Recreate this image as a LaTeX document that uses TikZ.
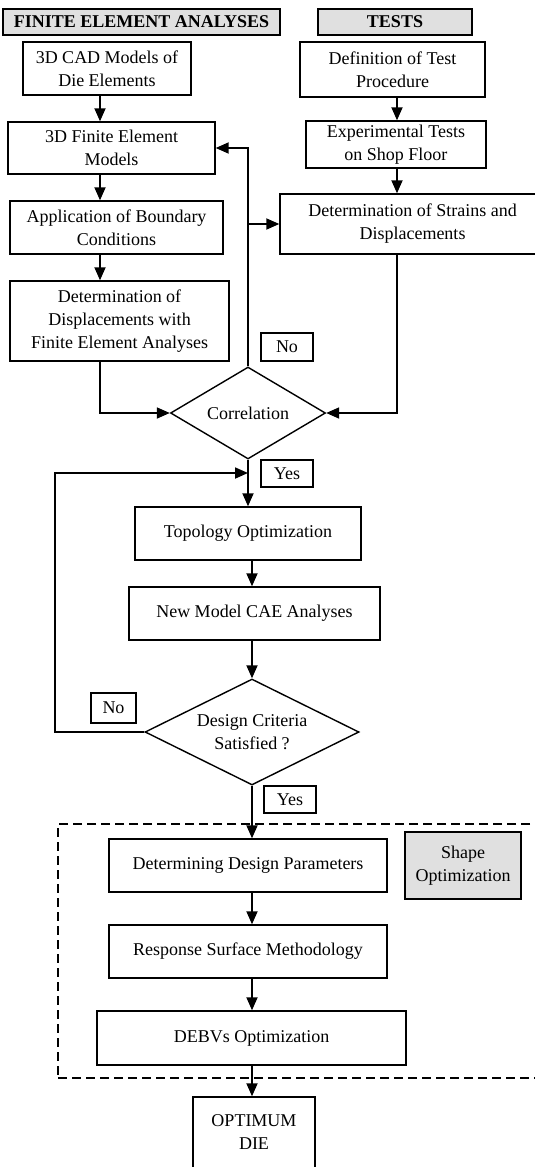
\documentclass[tikz,border=0pt]{standalone}
\usepackage{fontspec}
\setmainfont{Liberation Serif}
\usetikzlibrary{arrows.meta,shapes.geometric,calc}

\begin{document}
\begin{tikzpicture}[
    x=0.5pt, y=-0.5pt,
    >={Triangle[length=6.5pt,width=5.5pt]},
    every node/.style={font=\fontsize{9}{11.5}\selectfont},
    box/.style={draw, line width=0.7pt, align=center, inner sep=1pt},
    head/.style={box, fill=black!12, font=\fontsize{9}{11.5}\selectfont\bfseries},
    shaded/.style={box, fill=black!12},
    tag/.style={box, inner sep=0pt},
    decision/.style={draw, line width=0.7pt, diamond, align=center, inner sep=0pt},
    flow/.style={->, line width=0.9pt},
    group/.style={draw, line width=0.7pt, dash pattern=on 4.5pt off 2.5pt}
]
\useasboundingbox (0,0) rectangle (535,1167);
\clip (0,0) rectangle (535,1167);

% column lines
\coordinate (colA) at (100,0);
\coordinate (colB) at (397,0);
\coordinate (colD) at (252,0);

% two columns on top
\node[head, minimum width=138.5pt, minimum height=13pt] (feahdr) at (141.5,22) {FINITE ELEMENT ANALYSES};
\node[head, minimum width=77pt, minimum height=13pt] (testhdr) at (395,22) {TESTS};

\node[box, minimum width=84pt, minimum height=26.5pt] (cad) at (107,68.5) {3D CAD Models of\\Die Elements};
\node[box, minimum width=103.5pt, minimum height=26pt] (femod) at (111.5,148) {3D Finite Element\\Models};
\node[box, minimum width=106.5pt, minimum height=26.5pt] (appl) at (116.5,227.5) {Application of Boundary\\Conditions};
\node[box, minimum width=109.5pt, minimum height=40pt] (disp) at (119.5,321) {Determination of\\Displacements with\\Finite Element Analyses};

\node[box, minimum width=92.5pt, minimum height=27.5pt] (defn) at (392.5,69.5) {Definition of Test\\Procedure};
\node[box, minimum width=90pt, minimum height=23.5pt] (expt) at (396,144.5) {Experimental Tests\\on Shop Floor};
\node[box, minimum width=132.5pt, minimum height=30pt] (strains) at (412.5,224) {Determination of Strains and\\Displacements};

\node[decision, aspect=1.68, minimum width=77.5pt, minimum height=46pt] (corr) at (248,413) {Correlation};
\node[tag, minimum width=26pt, minimum height=14pt] (no1) at (287,347) {No};
\node[tag, minimum width=26pt, minimum height=13.5pt] (yes1) at (287,473.5) {Yes};
\coordinate (join) at (248,473);

% main line
\node[box, minimum width=113pt, minimum height=26.5pt] (topo) at (248,533.5) {Topology Optimization};
\node[box, minimum width=125.5pt, minimum height=26.5pt] (newm) at (254.5,613.5) {New Model CAE Analyses};
\node[decision, aspect=2, minimum width=107pt, minimum height=53pt] (crit) at (252,732) {Design Criteria\\Satisfied ?};
\node[tag, minimum width=22.5pt, minimum height=15pt] (no2) at (113.5,708) {No};
\node[tag, minimum width=26pt, minimum height=13.5pt] (yes2) at (290,799.5) {Yes};

% shape optimization
\node[group, minimum width=243.5pt, minimum height=127pt] (shapefrm) at (301.5,951) {};
\node[shaded, minimum width=58pt, minimum height=33.5pt] (shapehdr) at (463,865.5) {Shape\\Optimization};
\node[box, minimum width=139pt, minimum height=26.5pt] (dpar) at (248,865.5) {Determining Design Parameters};
\node[box, minimum width=139pt, minimum height=26.5pt] (rsm) at (248,951.5) {Response Surface Methodology};
\node[box, minimum width=154.5pt, minimum height=27pt] (debv) at (251.5,1038) {DEBVs Optimization};
\node[box, minimum width=61pt, minimum height=44pt, text depth=9pt] (optdie) at (254,1141) {OPTIMUM\\DIE};

\draw[flow] (cad.south -| colA) -- (femod.north -| colA);
\draw[flow] (femod.south -| colA) -- (appl.north -| colA);
\draw[flow] (appl.south -| colA) -- (disp.north -| colA);
\draw[flow] (disp.south -| colA) |- (corr.west);

\draw[flow] (defn.south -| colB) -- (expt.north -| colB);
\draw[flow] (expt.south -| colB) -- (strains.north -| colB);
\draw[flow] (strains.south -| colB) |- (corr.east);

\draw[flow] (corr.north) |- (femod.east);
\draw[flow] (corr.north |- strains.west) -- (strains.west);

\draw[flow] (corr.south) -- (topo.north);
\draw[flow] (crit.west) -- ++(-89,0) |- (join);
\draw[flow] (topo.south -| colD) -- (newm.north -| colD);
\draw[flow] (newm.south -| colD) -- (crit.north);
\draw[flow] (crit.south) -- (dpar.north -| colD);
\draw[flow] (dpar.south -| colD) -- (rsm.north -| colD);
\draw[flow] (rsm.south -| colD) -- (debv.north -| colD);
\draw[flow] (debv.south -| colD) -- (optdie.north -| colD);
\end{tikzpicture}
\end{document}
